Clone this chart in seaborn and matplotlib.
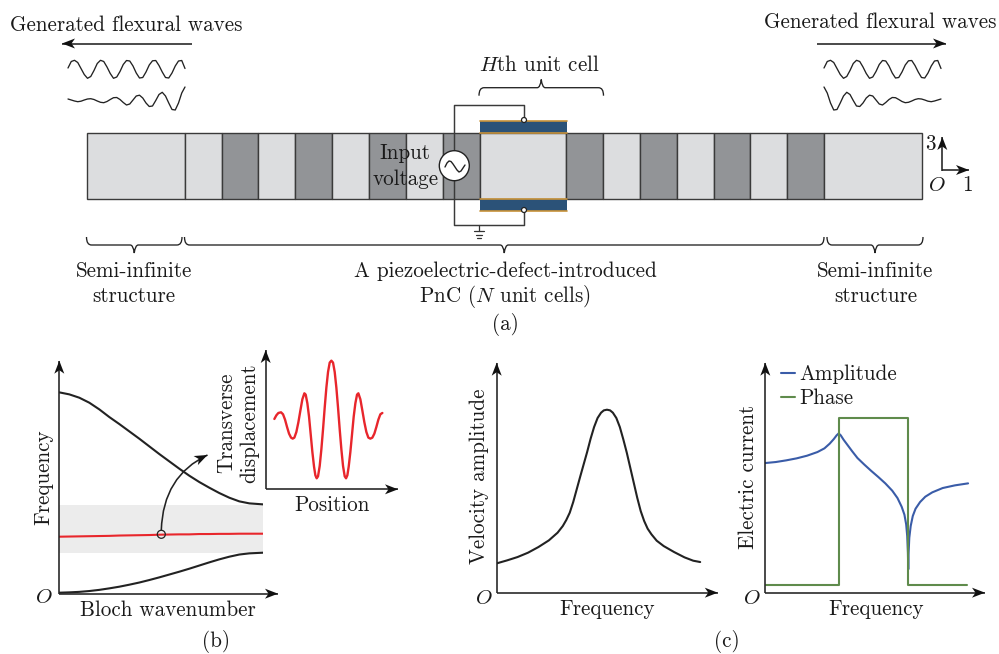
import numpy as np
import seaborn as sns
import matplotlib
matplotlib.use('Agg')
import matplotlib.pyplot as plt
from matplotlib.patches import Circle, PathPatch, Polygon
from matplotlib.path import Path

sns.set_theme(style='white')
plt.rcParams['font.family'] = ['cmr10', 'DejaVu Serif']
plt.rcParams['mathtext.fontset'] = 'cm'
plt.rcParams['axes.formatter.use_mathtext'] = True

W, H = 999, 654
FS = 15.2
INK = '#222222'

# bar of the phononic crystal, pixel columns
cell_edges = [86.7, 185, 221.7, 258.3, 295.3, 332, 369, 405.7, 442.7, 479.5, 566,
              603, 640, 676.7, 713.7, 750, 787, 823.7, 921.7]
cell_shade = ['l', 'l', 'd', 'l', 'd', 'l', 'd', 'l', 'd', 'l',
              'd', 'l', 'd', 'l', 'd', 'l', 'd', 'l']

# generated waves
wave_x = [68, 71.25, 74.5, 77.75, 81, 84.25, 87.5, 90.75, 94, 97.25, 100.5, 103.75, 107,
          110.25, 113.5, 116.75, 120, 123.25, 126.5, 129.75, 133, 136.25, 139.5, 142.75,
          146, 149.25, 152.5, 155.75, 159, 162.25, 165.5, 168.75, 172, 175.25, 178.5,
          181.75, 185]
wave_even = [68.0, 61.5, 60.3, 62.5, 68.5, 74.5, 78.3, 76.5, 70.5, 63.5, 60.3, 61.5, 67,
             73.5, 78.3, 77, 71.5, 64.5, 60.5, 61, 66, 73, 78, 77.5, 72, 65, 60.8, 60.5,
             65.5, 72, 77.5, 78, 73, 66, 61, 60.5, 68.5]
wave_grow = [99, 100, 101, 101.7, 101.2, 100, 99, 98.7, 99.5, 101, 102.3, 102.7, 101.5,
             99.5, 97.7, 97.5, 99.5, 102.5, 105, 104, 100, 96, 95.2, 98, 103, 106.5, 106,
             100.5, 94.5, 92.3, 96, 103, 109.5, 110, 103, 93, 87]

# panel (b) dispersion
bloch_x = [0, 30, 60, 90, 120, 150, 180, 210, 240, 270, 300, 330, 360, 390, 420, 450, 480,
           510, 540, 570, 611]
upper_band = [604, 598, 588, 573, 553, 530, 509, 487, 465, 442, 419, 397, 375, 354, 335, 318,
              302, 288, 277, 271, 268]
lower_band = [3, 4, 5.5, 8, 11.5, 16, 21, 27, 33.5, 41, 49, 57.5, 66, 75, 84.5, 94, 103, 111,
              117.5, 121, 123]
defect_band = [171, 171.5, 172, 172.5, 173, 173.5, 174.5, 175, 175.5, 176, 177, 177.5, 178, 178,
               179, 179, 179.5, 179.5, 180, 180, 180]
gap_bottom, gap_top = 123, 266

# panel (b) mode shape
position = [26, 32, 38, 46, 52, 58, 64, 70, 76, 81, 86, 92, 98, 104, 110, 116, 120, 125, 130,
            135, 140, 145, 149, 153, 157, 162, 167, 172, 177, 182, 187, 192, 197, 202, 207, 212,
            217, 222, 227, 232, 237, 241, 245, 249, 254, 259, 264, 269, 274, 278, 284, 290, 296,
            302, 308, 314, 320, 326, 332, 338, 344, 350]
displacement = [211, 222, 229, 231, 225, 209, 187, 167, 155, 152, 155, 172, 201, 236, 270, 288,
                284, 258, 218, 165, 112, 68, 42, 33, 39, 70, 120, 180, 245, 305, 352, 380, 386,
                380, 352, 305, 245, 180, 120, 70, 39, 33, 42, 68, 112, 165, 218, 258, 284, 288,
                270, 236, 201, 172, 155, 152, 155, 167, 187, 209, 225, 229]

# panel (c) velocity
freq_v = [0, 30, 60, 90, 120, 150, 175, 190, 200, 210, 220, 230, 240, 250, 260, 270, 280, 290,
          300, 308, 317, 326, 334, 344, 354, 364, 374, 384, 394, 404, 414, 424, 434, 445, 460,
          480, 510, 540, 565, 585]
velocity = [88, 97, 107, 120, 137, 157, 180, 200, 218, 240, 272, 310, 348, 385, 422, 462, 497,
            524, 540, 547, 549, 547, 540, 524, 497, 460, 420, 375, 330, 285, 245, 215, 192, 175,
            156, 140, 122, 106, 96, 92]

# panel (c) current
freq_a = [0, 30, 60, 90, 120, 150, 170, 185, 197, 205, 211, 217, 225, 235, 250, 265, 285, 305,
          325, 345, 365, 380, 392, 400, 405, 408, 410, 411, 412, 414, 418, 424, 432, 445, 460,
          480, 510, 545, 583]
amplitude = [389, 392, 397, 403, 411, 422, 433, 447, 461, 472, 478, 472, 459, 445, 424, 404, 384,
             365, 347, 328, 306, 284, 258, 234, 205, 170, 120, 70, 120, 165, 200, 230, 252, 272,
             288, 301, 314, 322, 328]
freq_p = [3, 211, 211, 411, 411, 581]
phase = [22, 22, 523, 523, 22, 22]


def panel(fig, x0, y0, xmax, ymax, xscale=3.0):
    # axes with origin at pixel x0,y0, data units per pixel from the crops I read
    ax = fig.add_axes([x0 / W, 1 - y0 / H, xmax / xscale / W, ymax / 3 / H])
    ax.set_xlim(0, xmax)
    ax.set_ylim(0, ymax)
    ax.axis('off')
    ax.patch.set_alpha(0)
    return ax


def curve(ax, x, y, color=INK, lw=1.5, label=None):
    sns.lineplot(x=x, y=y, ax=ax, color=color, linewidth=lw, sort=False, estimator=None,
                 label=label, solid_joinstyle='round', solid_capstyle='round')


def head(ax, tip, direction):
    # stealth arrow head, pixels
    d = np.array(direction, dtype=float)
    d = d / np.hypot(*d)
    n = np.array([-d[1], d[0]])
    tip = np.array(tip, dtype=float)
    pts = [tip, tip - 13 * d + 5 * n, tip - 9.5 * d, tip - 13 * d - 5 * n]
    ax.add_patch(Polygon(pts, closed=True, fc='#111111', ec='none', zorder=6))


def arrow(ax, start, end, lw=1.15):
    ax.plot([start[0], end[0]], [start[1], end[1]], color='#222222', lw=lw, solid_capstyle='butt')
    head(ax, end, (end[0] - start[0], end[1] - start[1]))


def brace(ax, x0, x1, y, tip, arm):
    # curly brace, arm goes to the ends and tip goes to the middle
    mid = (x0 + x1) / 2
    r = 4
    sgn = 1 if tip > y else -1
    verts = [(x0, y - sgn * arm), (x0, y), (x0 + r + 1, y), (mid - r, y), (mid - 1, y), (mid, y + sgn * (abs(tip - y))),
             (mid + 1, y), (mid + r, y), (x1 - r - 1, y), (x1, y), (x1, y - sgn * arm)]
    codes = [Path.MOVETO, Path.CURVE3, Path.CURVE3, Path.LINETO, Path.CURVE3, Path.CURVE3,
             Path.CURVE3, Path.CURVE3, Path.LINETO, Path.CURVE3, Path.CURVE3]
    ax.add_patch(PathPatch(Path(verts, codes), fc='none', ec=INK, lw=0.95))


def label(ax, x, y, s, **kw):
    # x,y is the middle of the baseline
    ax.text(x, y, s, fontsize=FS, ha='center', va='baseline', rotation_mode='anchor',
            color='#1a1a1a', **kw)


fig = plt.figure(figsize=(W / 100, H / 100), dpi=100)

# panel (b)
ax_b = panel(fig, 59.3, 593.7, 611, 610)
ax_b.fill_between([0, 611], gap_bottom, gap_top, color='#ececec', lw=0)
curve(ax_b, bloch_x, upper_band)
curve(ax_b, bloch_x, lower_band)
curve(ax_b, bloch_x, defect_band, color='#e8262c')

ax_mode = panel(fig, 265.7, 489.3, 360, 400)
curve(ax_mode, position, displacement, color='#e8262c', lw=1.7)

# panel (c)
ax_v = panel(fig, 496.7, 592.7, 600, 560, xscale=2.875)
curve(ax_v, freq_v, velocity)

ax_i = panel(fig, 765.3, 592.7, 600, 560, xscale=2.875)
curve(ax_i, freq_a, amplitude, color='#3a5ca8', label='Amplitude')
curve(ax_i, freq_p, phase, color='#5f8b4c', label='Phase')
ax_i.legend(loc='upper left', bbox_to_anchor=(0.074, 1.22), frameon=False, fontsize=FS,
            handlelength=0.66, handletextpad=0.2, labelspacing=0.2, borderpad=0, borderaxespad=0,
            labelcolor='#1a1a1a')

# everything else is placed in pixels on a full figure axes
ax = fig.add_axes([0, 0, 1, 1], zorder=5)
ax.set_xlim(0, W)
ax.set_ylim(H, 0)
ax.axis('off')
ax.patch.set_alpha(0)

# bar
edges = np.array(cell_edges)
colors = ['#dcdddf' if s == 'l' else '#929497' for s in cell_shade]
ax.bar(edges[:-1], 66, width=np.diff(edges), bottom=133, align='edge', color=colors,
       edgecolor='#3a3a3a', linewidth=1.0)

# electrodes
for top, bot in [(121, 133), (199, 210.5)]:
    ax.bar(479.5, bot - top, width=87.5, bottom=top, align='edge', color='#2b5278', lw=0, zorder=3)
    ax.plot([479.5, 567], [top, top], color='#c8923a', lw=1.2, zorder=3.2)
    ax.plot([479.5, 567], [bot, bot], color='#c8923a', lw=1.2, zorder=3.2)

# circuit
wire_x = [524, 524, 453.7, 453.7, 524, 524]
wire_y = [120, 104.7, 104.7, 225, 225, 210]
ax.plot(wire_x, wire_y, color='#3a3a3a', lw=1.05, zorder=4)
for yy in (120, 210):
    ax.add_patch(Circle((524, yy), 2.5, fc='white', ec='#222222', lw=0.9, zorder=5))
ax.add_patch(Circle((454.3, 165.7), 15, fc='white', ec='#222222', lw=1.0, zorder=5))
sine_x = [445, 447, 449, 451, 453, 455, 457, 459, 461, 463, 465]
sine_y = [167, 163, 161, 161.5, 164, 167, 170, 172, 171, 168, 165]
ax.plot(sine_x, sine_y, color='#222222', lw=1.0, zorder=6)
ax.plot([479, 479], [225, 231], color='#333333', lw=0.9)
for half, yy in [(5, 231), (3.2, 234.5), (1.6, 238)]:
    ax.plot([479 - half, 479 + half], [yy, yy], color='#333333', lw=0.9)

# waves and their arrows, right side repeats the left one
curve(ax, wave_x, wave_even, lw=0.95)
curve(ax, wave_x, wave_grow, lw=0.95)
curve(ax, list(np.array(wave_x) + 756), wave_even, lw=0.95)
curve(ax, list(1009 - np.array(wave_x)), wave_grow, lw=0.95)
arrow(ax, (192, 43.5), (62, 43.5))
arrow(ax, (817, 43.5), (946, 43.5))
arrow(ax, (942.3, 170.5), (942.3, 137))
arrow(ax, (942.3, 170), (969, 170))

# braces
brace(ax, 86.5, 182, 245, 253, 8)
brace(ax, 184.5, 824, 245, 253, 8)
brace(ax, 827, 923, 245, 253, 8)
brace(ax, 479, 603.5, 87.7, 79.5, 8)

# axis arrows of the bottom panels
arrow(ax, (59.3, 593.7), (278, 593.7))
arrow(ax, (59.3, 593.7), (59.3, 360.7))
arrow(ax, (265.7, 489.3), (398, 489.3))
arrow(ax, (265.7, 489.3), (265.7, 350))
arrow(ax, (496.7, 592.7), (717.8, 592.7))
arrow(ax, (496.7, 592.7), (496.7, 362.7))
arrow(ax, (765.3, 592.7), (985, 592.7))
arrow(ax, (765.3, 592.7), (765.3, 362.7))

# mode pointer
ax.add_patch(Circle((161.3, 534.3), 4, fc='none', ec='#222222', lw=0.9, zorder=6))
ctrl = (163, 476)
tip = (207.5, 455)
ax.add_patch(PathPatch(Path([(161.3, 530), ctrl, tip], [Path.MOVETO, Path.CURVE3, Path.CURVE3]),
                       fc='none', ec='#222222', lw=1.15))
head(ax, tip, (tip[0] - ctrl[0], tip[1] - ctrl[1]))

# text
label(ax, 126.5, 31, 'Generated flexural waves')
label(ax, 880.5, 28, 'Generated flexural waves')
label(ax, 539, 71, r'$H$th unit cell')
label(ax, 405, 159.3, 'Input', zorder=7)
label(ax, 406, 185, 'voltage', zorder=7)
label(ax, 930, 150, '3')
label(ax, 936.7, 190.7, r'$O$')
label(ax, 967, 190.7, '1')
label(ax, 134, 277, 'Semi-infinite')
label(ax, 134, 302, 'structure')
label(ax, 875.5, 277, 'Semi-infinite')
label(ax, 875.5, 302, 'structure')
label(ax, 505, 277, 'A piezoelectric-defect-introduced')
label(ax, 505, 302, r'PnC ($N$ unit cells)')
label(ax, 505, 330, '(a)')

label(ax, 49, 476.7, 'Frequency', rotation=90)
label(ax, 44, 603.3, r'$O$')
label(ax, 167.7, 616, 'Bloch wavenumber')
label(ax, 216, 647, '(b)')
label(ax, 232, 423, 'Transverse', rotation=90)
label(ax, 255, 423, 'displacement', rotation=90)
label(ax, 331.7, 510.7, 'Position')

label(ax, 485, 476.7, 'Velocity amplitude', rotation=90)
label(ax, 483.4, 604, r'$O$')
label(ax, 607.5, 615, 'Frequency')
label(ax, 727, 647, '(c)')
label(ax, 754.4, 476.7, 'Electric current', rotation=90)
label(ax, 752.3, 604, r'$O$')
label(ax, 876.4, 615, 'Frequency')

fig.savefig('out.png', dpi=100)
